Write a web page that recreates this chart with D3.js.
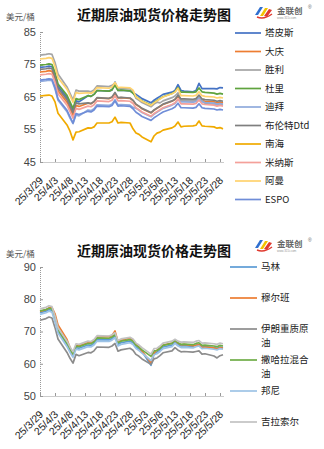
<!DOCTYPE html>
<html><head><meta charset="utf-8">
<script src="https://cdn.jsdelivr.net/npm/d3@7/dist/d3.min.js"></script>
<style>body{margin:0;background:#fff;} svg{display:block;font-family:"Liberation Sans",Arial,sans-serif;}</style>
</head><body><svg id="c" width="324" height="449"></svg>
<script>
// ---------- DATA ----------
const dates = ["2025-03-29","2025-03-31","2025-04-01","2025-04-02","2025-04-03","2025-04-04","2025-04-07","2025-04-08","2025-04-09","2025-04-10","2025-04-11",
"2025-04-14","2025-04-15","2025-04-16","2025-04-17","2025-04-21","2025-04-22","2025-04-23","2025-04-24","2025-04-25","2025-04-28","2025-04-29","2025-04-30",
"2025-05-01","2025-05-02","2025-05-05","2025-05-06","2025-05-07","2025-05-08","2025-05-09","2025-05-12","2025-05-13","2025-05-14","2025-05-15","2025-05-16",
"2025-05-19","2025-05-20","2025-05-21","2025-05-22","2025-05-23","2025-05-26","2025-05-27","2025-05-28","2025-05-29"];
const tickDates = ["2025-03-29","2025-04-03","2025-04-08","2025-04-13","2025-04-18","2025-04-23","2025-04-28","2025-05-03","2025-05-08","2025-05-13","2025-05-18","2025-05-23","2025-05-28"];
const tickLabels = ["25/3/29","25/4/3","25/4/8","25/4/13","25/4/18","25/4/23","25/4/28","25/5/3","25/5/8","25/5/13","25/5/18","25/5/23","25/5/28"];

const topTitle = "近期原油现货价格走势图";
const unitLabel = "美元/桶";
const topTicks = [45,55,65,75,85];
const bottomTicks = [50,60,70,80,90];

const topNames = ["塔皮斯","大庆","胜利","杜里","迪拜","布伦特Dtd","南海","米纳斯","阿曼","ESPO"];
const tapis  = [74.1,74.3,74.5,74.3,71.8,68.3,64.8,62.8,60.8,63.8,63.5,65.4,65.2,65.8,67.0,66.8,67.2,69.6,67.0,67.1,66.9,66.2,65.8,65.2,64.5,63.2,64.0,64.6,65.2,65.8,66.5,67.0,68.8,67.0,66.8,66.6,67.0,69.2,67.6,67.6,67.6,67.5,67.9,67.8];
const daqing = [72.7,72.9,73.1,72.9,70.4,66.9,63.4,61.4,59.4,62.4,62.1,63.1,62.9,63.5,64.7,64.5,64.9,66.0,64.7,64.8,64.6,63.9,62.7,62.1,61.4,60.1,60.9,61.5,62.1,62.7,63.7,64.2,65.2,63.9,63.9,63.8,64.0,64.9,63.9,63.7,63.5,63.2,63.4,63.2];
const shengli= [77.9,78.1,78.3,78.1,75.6,72.1,68.1,66.1,64.1,67.1,66.8,66.8,66.6,67.2,68.4,68.2,68.6,69.2,67.6,67.7,67.5,66.8,64.6,64.0,63.3,62.0,62.8,63.4,63.2,63.8,64.8,65.3,66.3,64.0,64.0,63.9,64.1,65.0,64.0,63.0,62.8,62.5,62.7,62.5];
const duri   = [74.8,75.0,75.2,75.0,72.5,69.0,65.5,63.5,61.5,64.5,64.2,65.4,65.2,65.8,67.0,66.8,67.2,68.6,67.0,67.1,66.9,66.2,65.1,64.5,63.8,62.5,63.3,63.9,64.5,65.1,66.1,66.6,67.9,66.5,66.5,66.4,66.6,67.8,66.6,66.4,66.2,65.9,66.1,65.9];
const dubai  = [69.8,70.0,70.2,70.0,67.5,64.0,60.5,58.5,56.8,59.5,59.2,61.0,60.8,61.4,62.6,62.4,62.8,64.2,62.6,62.7,62.5,61.8,61.5,60.9,60.2,58.9,59.7,60.3,60.9,61.5,62.5,63.0,64.2,63.5,63.5,63.4,63.6,64.7,63.5,63.3,63.1,62.8,63.0,62.8];
const brent  = [73.5,73.7,73.9,73.7,71.2,67.7,64.2,62.2,60.2,63.2,62.9,63.2,63.0,63.6,64.8,64.6,65.0,66.4,64.8,64.9,64.7,64.0,62.8,62.2,61.5,60.2,61.0,61.6,62.2,62.8,63.8,64.3,65.5,64.4,64.4,64.3,64.5,65.6,64.4,64.2,64.0,63.7,63.9,63.7];
const nanhai = [65.3,65.5,65.6,65.3,63.5,60.0,56.4,54.5,51.8,54.2,54.3,55.5,55.4,55.8,57.0,57.0,57.4,58.8,57.0,57.2,57.0,55.2,53.9,53.5,52.7,51.2,53.0,53.9,54.2,54.8,55.5,56.1,57.3,55.8,56.0,56.1,56.3,57.6,56.1,56.0,55.8,55.4,55.6,55.2];
const minas  = [71.8,72.0,72.2,72.0,69.5,66.0,62.5,60.5,58.5,61.5,61.2,62.2,62.0,62.6,63.8,63.6,64.0,65.4,63.8,63.9,63.7,63.0,61.7,61.1,60.4,59.1,59.9,60.5,61.1,61.7,62.7,63.2,64.4,62.9,62.9,62.8,63.0,64.1,62.9,62.7,62.5,62.2,62.4,62.2];
const oman   = [76.7,76.9,77.1,76.9,74.4,70.9,67.4,65.4,63.4,66.4,66.1,66.3,66.1,66.7,67.9,67.7,68.1,69.5,67.9,68.0,67.8,67.1,65.0,64.4,63.7,62.4,63.2,63.8,64.4,65.0,66.0,66.5,67.7,65.4,65.4,65.3,65.5,66.6,65.4,65.2,65.0,64.7,64.9,64.7];
const espo   = [70.2,70.4,70.6,70.4,67.9,64.4,60.9,58.9,57.0,59.9,59.6,60.6,60.4,61.0,62.2,62.0,62.4,63.8,62.2,62.3,62.1,61.4,60.3,59.7,59.0,57.8,58.6,59.2,59.8,60.4,61.4,61.9,63.1,61.7,61.7,61.6,61.8,62.9,61.7,61.5,61.3,61.0,61.2,61.0];

const bottomNames = ["马林","穆尔班","伊朗重质原油","撒哈拉混合油","邦尼","吉拉索尔"];
const malin   = [75.8,76.3,76.8,76.5,73.5,70.0,65.8,64.0,62.5,65.0,64.8,65.8,65.7,66.3,67.5,67.4,67.8,68.6,66.0,66.5,67.0,66.5,65.2,64.6,63.8,59.5,63.0,63.6,64.3,65.2,65.8,66.8,66.0,65.5,65.6,65.4,65.8,66.0,65.2,65.3,65.0,64.8,65.2,65.0];
const murban  = [76.2,76.8,77.3,77.4,75.5,72.0,67.5,65.0,63.0,65.6,65.6,66.6,66.5,67.1,68.3,68.4,68.8,70.2,66.8,67.3,67.9,67.3,66.0,65.2,63.9,60.3,63.4,64.2,64.9,65.8,66.4,67.2,66.4,65.9,66.0,65.6,65.7,65.9,65.0,65.2,64.9,64.6,65.0,64.8];
const iranHeavy=[73.5,74.0,74.5,74.2,71.2,67.7,63.5,61.7,60.2,62.9,62.5,63.5,63.4,64.0,65.2,65.1,65.5,66.3,63.9,64.3,64.8,64.2,62.9,62.3,61.5,59.8,61.5,61.8,62.5,63.4,64.0,65.0,64.2,63.7,63.8,63.6,63.8,64.0,63.0,63.1,62.4,61.8,62.5,62.8];
const saharan = [76.4,76.8,77.2,77.0,74.0,70.5,66.3,64.5,63.0,65.5,65.3,66.3,66.2,66.8,68.0,67.9,68.3,69.0,66.5,67.0,67.5,67.0,65.7,65.1,64.3,62.3,64.0,64.1,64.8,65.7,66.3,67.3,66.5,66.0,66.1,65.9,66.3,66.5,65.7,65.8,65.5,65.3,65.7,65.5];
const bonny   = [75.3,75.8,76.3,76.0,73.0,69.5,65.3,63.5,62.0,64.5,64.3,65.3,65.2,65.8,67.0,66.9,67.3,68.1,65.5,66.0,66.5,66.0,64.7,64.1,63.3,61.0,62.8,63.1,63.8,64.7,65.3,66.3,65.5,65.0,65.1,64.9,65.3,65.5,64.7,64.8,64.5,64.3,64.7,64.5];
const girassol= [77.0,77.5,78.0,77.7,74.7,71.2,67.0,65.2,63.7,66.2,66.0,67.0,66.9,67.5,68.7,68.6,69.0,69.6,67.2,67.7,68.2,67.7,66.4,65.8,65.0,63.0,64.7,64.8,65.5,66.4,67.0,67.6,67.0,66.7,66.8,66.6,67.0,67.2,66.4,66.5,66.2,66.0,66.4,66.2];

// ---------- STYLE ----------
const topColors = ["#4472C4","#ED7D31","#A5A5A5","#5FA33E","#8FAADC","#7F7F7F","#F0AA00","#F4A09A","#FFD36E","#6F8DD8"];
const bottomColors = ["#5B9BD5","#ED7D31","#8C8C8C","#70AD47","#9DC3E6","#C2C2C2"];

const parse = d3.timeParse("%Y-%m-%d");
const xDates = dates.map(parse);
const svg = d3.select("#c");
svg.append("rect").attr("width",324).attr("height",449).attr("fill","#fff");

const x = d3.scaleTime().domain([parse("2025-03-29"), parse("2025-05-29")]).range([40, 223]);

function logo(g, ox, oy){
  g.append("path").attr("d",`M${ox},${oy+10} L${ox+5},${oy+2} L${ox+8},${oy+2} L${ox+3},${oy+10}Z`).attr("fill","#2f6fd0");
  g.append("path").attr("d",`M${ox+5},${oy+11} L${ox+10},${oy+3} L${ox+13},${oy+3} L${ox+8},${oy+11}Z`).attr("fill","#f2c200");
  g.append("path").attr("d",`M${ox+9},${oy+11} L${ox+14},${oy+4} L${ox+17},${oy+5} L${ox+12},${oy+12}Z`).attr("fill","#e03a2f");
  g.append("path").attr("d",`M${ox+2},${oy+12} Q${ox+9},${oy+15} ${ox+17},${oy+9}`).attr("fill","none").attr("stroke","#e03a2f").attr("stroke-width",1.5);
  g.append("text").attr("x",ox+22).attr("y",oy+9).attr("font-family","'Noto Sans CJK SC'").attr("font-size",8.5).attr("font-weight","bold").attr("fill","#666").text("金联创");
  g.append("text").attr("x",ox+22).attr("y",oy+14).attr("font-size",3).attr("fill","#999").text("www.315i.com");
  g.append("text").attr("x",ox+53).attr("y",oy+4).attr("font-size",5).attr("fill","#666").text("®");
}

function panel(cfg){
  const g = svg.append("g");
  const y = d3.scaleLinear().domain(cfg.domain).range(cfg.yRange);
  const y0 = cfg.yRange[0];
  g.append("text").attr("x",154).attr("y",cfg.titleY).attr("text-anchor","middle")
    .attr("font-family","'Noto Sans CJK SC'").attr("font-weight","bold").attr("font-size",14).attr("fill","#111").text(topTitle);
  g.append("text").attr("x",6).attr("y",cfg.unitY).attr("font-family","'Noto Sans CJK SC'").attr("font-size",8.5).attr("fill","#555").text(unitLabel);
  logo(g, 255, cfg.logoY);
  const ya = g.append("g").attr("transform","translate(40,0)").call(d3.axisRight(y).tickValues(cfg.ticks).tickSize(3).tickFormat(""));
  ya.select(".domain").attr("stroke","#999").attr("stroke-dasharray","1,1");
  ya.selectAll(".tick line").attr("stroke","#999");
  g.selectAll(".ylab").data(cfg.ticks).join("text").attr("x",36).attr("y",d=>y(d)).attr("dy","0.36em")
    .attr("text-anchor","end").attr("font-size",11).attr("fill","#444").text(d=>d);
  const xa = g.append("g").attr("transform",`translate(0,${y0})`).call(d3.axisTop(x).tickValues(tickDates.map(parse)).tickSize(3).tickFormat("").tickSizeOuter(0));
  xa.select(".domain").attr("stroke","#999").attr("stroke-dasharray","1,1");
  xa.selectAll(".tick line").attr("stroke","#999");
  g.selectAll(".xlab").data(tickLabels).join("text")
    .attr("transform",(d,i)=>`translate(${x(parse(tickDates[i]))+4},${y0+19}) rotate(-45)`)
    .attr("text-anchor","end").attr("font-size",10.5).attr("fill","#222").text(d=>d);
  const line = d3.line().x((d,i)=>x(xDates[i])).y(d=>y(d));
  cfg.series.forEach((s,k)=>{
    g.append("path").datum(s).attr("fill","none").attr("stroke",cfg.colors[k]).attr("stroke-width",1.7)
      .attr("stroke-linejoin","round").attr("d",line);
  });
  cfg.names.forEach((n,k)=>{
    const ly = cfg.legY[k];
    g.append("line").attr("x1",cfg.legX1).attr("x2",cfg.legX2).attr("y1",ly).attr("y2",ly).attr("stroke",cfg.colors[k]).attr("stroke-width",1.7);
    const t = g.append("text").attr("x",cfg.legX2+4).attr("y",ly).attr("dy","0.35em").attr("font-family","'Noto Sans CJK SC'").attr("font-size",9.5).attr("fill","#222");
    if(cfg.wrap && n.length>cfg.wrap){
      t.append("tspan").text(n.slice(0,cfg.wrap));
      t.append("tspan").attr("x",cfg.legX2+4).attr("dy",14).text(n.slice(cfg.wrap));
    } else t.text(n);
  });
}

panel({domain:[45,85], yRange:[162,32], ticks:topTicks, titleY:20, unitY:20, logoY:5,
  series:[tapis,daqing,shengli,duri,dubai,brent,nanhai,minas,oman,espo], colors:topColors, names:topNames,
  legY:[33,51.5,70,88.5,107,125.5,144,162.5,181,199.5], legX1:235, legX2:261, wrap:0});
panel({domain:[50,90], yRange:[396,267], ticks:bottomTicks, titleY:256, unitY:257, logoY:238,
  series:[malin,murban,iranHeavy,saharan,bonny,girassol], colors:bottomColors, names:bottomNames,
  legY:[267,298,329,360,391,422], legX1:230, legX2:257, wrap:5});
</script></body></html>
